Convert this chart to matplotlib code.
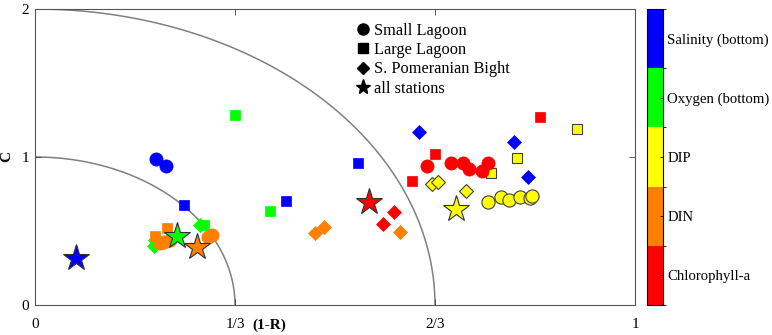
import numpy as np
import matplotlib
matplotlib.use("Agg")
import matplotlib.pyplot as plt
from matplotlib.colors import ListedColormap, BoundaryNorm
from matplotlib.cm import ScalarMappable
from matplotlib.lines import Line2D

plt.rcParams['font.family'] = ['Liberation Serif', 'DejaVu Serif']

# variables (colour index, bottom -> top of colorbar)
var_names = ['Chlorophyll-a', 'DIN', 'DIP', 'Oxygen (bottom)', 'Salinity (bottom)']
var_colors = ['#FF0000', '#FF8000', '#FFFF00', '#00FF00', '#0000FF']

# Small Lagoon (circles)
sl_x = [0.2015, 0.218, 0.6528, 0.694, 0.714, 0.7235, 0.7457, 0.755,
        0.755, 0.776, 0.790, 0.808, 0.8247, 0.829,
        0.2087, 0.2142, 0.2254, 0.2883, 0.295]
sl_y = [0.984, 0.941, 0.941, 0.957, 0.962, 0.919, 0.908, 0.962,
        0.698, 0.732, 0.709, 0.732, 0.721, 0.736,
        0.417, 0.428, 0.44, 0.462, 0.473]
sl_var = [4, 4, 0, 0, 0, 0, 0, 0,
          2, 2, 2, 2, 2, 2,
          1, 1, 1, 1, 1]

# Large Lagoon (squares)
ll_x = [0.334, 0.392, 0.281, 0.248, 0.538, 0.4185, 0.666, 0.628, 0.842,
        0.7607, 0.804, 0.903, 0.2199, 0.2003]
ll_y = [1.284, 0.633, 0.541, 0.678, 0.957, 0.703, 1.020, 0.840, 1.272,
        0.890, 0.995, 1.187, 0.518, 0.466]
ll_var = [3, 3, 3, 4, 4, 4, 0, 0, 0, 2, 2, 2, 1, 1]

# S. Pomeranian Bight (diamonds)
pb_x = [0.640, 0.7986, 0.822, 0.580, 0.598, 0.4674, 0.481, 0.609,
        0.662, 0.6717, 0.719, 0.1975, 0.2008, 0.2743]
pb_y = [1.167, 1.099, 0.863, 0.547, 0.628, 0.484, 0.529, 0.491,
        0.818, 0.829, 0.772, 0.399, 0.439, 0.541]
pb_var = [4, 4, 4, 0, 0, 1, 1, 1, 2, 2, 2, 3, 3, 3]

# all stations (stars)
all_x = [0.0684, 0.2365, 0.270, 0.5565, 0.702]
all_y = [0.315, 0.466, 0.394, 0.698, 0.646]
all_var = [4, 3, 1, 0, 2]

x_ticks = [0, 1/3, 2/3, 1]
x_ticklabels = ['0', '1/3', '2/3', '1']
y_ticks = [0, 1, 2]


def draw_group(ax, xs, ys, vs, marker, size):
    for x, y, v in zip(xs, ys, vs):
        col = var_colors[v]
        if v == 2:
            ax.plot(x, y, marker=marker, ms=size, mfc=col, mec='#404040', mew=0.8, ls='none')
        else:
            ax.plot(x, y, marker=marker, ms=size, mfc=col, mec=col, mew=0.5, ls='none')


fig = plt.figure(figsize=(7.72, 3.35), dpi=100)
ax = fig.add_axes([35/772, 30/335, 600/772, 296/335])

# reference arcs
t = np.linspace(0, np.pi/2, 200)
for r in [1, 2]:
    ax.plot(r/3*np.cos(t), r*np.sin(t), color='#808080', lw=1.1, zorder=1)

draw_group(ax, pb_x, pb_y, pb_var, 'D', 7)
draw_group(ax, ll_x, ll_y, ll_var, 's', 7)
draw_group(ax, sl_x, sl_y, sl_var, 'o', 9.5)
for x, y, v in zip(all_x, all_y, all_var):
    ax.plot(x, y, marker='*', ms=20, mfc=var_colors[v], mec='#303030', mew=0.8, ls='none')

ax.set_xlim(0, 1)
ax.set_ylim(0, 2)
ax.set_xticks(x_ticks)
ax.set_xticklabels(x_ticklabels)
ax.set_yticks(y_ticks)
ax.tick_params(direction='in', top=True, right=True, labelsize=11, length=4, width=0.6,
               color='#404040', pad=4)
ax.tick_params(axis='x', pad=9)
for s in ax.spines.values():
    s.set_color('#555555')
    s.set_linewidth(0.8)

ax.set_xlabel('(1-R)', fontweight='bold', fontsize=11)
ax.xaxis.set_label_coords(0.39, -0.045)
ax.set_ylabel('C', fontweight='bold', fontsize=11)
ax.yaxis.set_label_coords(-0.037, 0.5)

handles = [Line2D([], [], marker=m, color='black', ls='none', ms=s)
           for m, s in [('o', 8), ('s', 7), ('D', 6), ('*', 11)]]
ax.legend(handles, ['Small Lagoon', 'Large Lagoon', 'S. Pomeranian Bight', 'all stations'],
          loc='upper left', bbox_to_anchor=(0.507, 1.0), frameon=False, fontsize=11.8,
          handletextpad=0.05, handlelength=1.2, labelspacing=0.2, borderaxespad=0.45)

# colorbar
cax = fig.add_axes([647/772, 30/335, 16/772, 296/335])
cmap = ListedColormap(var_colors)
norm = BoundaryNorm(np.arange(6) - 0.5, 5)
sm = ScalarMappable(norm=norm, cmap=cmap)
cb = fig.colorbar(sm, cax=cax, ticks=range(5))
cb.set_ticklabels(var_names)
cb.ax.tick_params(labelsize=10.6, direction='in', length=2, width=0.6, pad=3)
cb.outline.set_linewidth(0.8)

fig.savefig('out.png', dpi=100)
